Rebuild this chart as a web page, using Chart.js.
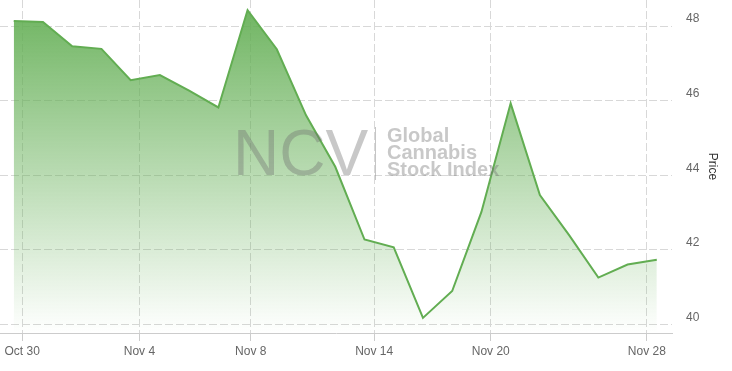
<!DOCTYPE html>
<html>
<head>
<meta charset="utf-8">
<script src="https://cdn.jsdelivr.net/npm/chart.js@4/dist/chart.umd.min.js"></script>
<style>
  html, body { margin: 0; padding: 0; background: #fff; }
  #wrap { width: 732px; height: 371px; }
</style>
</head>
<body>
<div id="wrap"><canvas id="priceChart" width="732" height="371"></canvas></div>
<script>
// daily closes, one per trading session (index = session number)
var prices = [48.14, 48.11, 47.46, 47.39, 46.55, 46.69, 46.27, 45.82,
              48.43, 47.38, 45.61, 44.23, 42.28, 42.07, 40.18, 40.90,
              43.02, 45.93, 43.47, 42.40, 41.26, 41.61, 41.74];

// date labels on the time axis and where they fall, in session units
var tickLabels = ["Oct 30", "Nov 4", "Nov 8", "Nov 14", "Nov 20", "Nov 28"];
var tickAt = [0.29, 4.30, 8.11, 12.33, 16.32, 21.66];

var priceTicks = [40, 42, 44, 46, 48];

(function () {
  "use strict";

  var FONT = "'Liberation Sans', Arial, sans-serif";

  var points = prices.map(function (p, i) { return { x: i, y: p }; });

  // NCV watermark in the middle of the plot
  var watermark = {
    id: "watermark",
    afterDatasetsDraw: function (chart) {
      var ctx = chart.ctx;
      ctx.save();
      ctx.fillStyle = "rgba(110, 110, 110, 0.38)";
      ctx.textBaseline = "alphabetic";
      ctx.textAlign = "left";
      ctx.font = "64px " + FONT;
      ctx.fillText("NCV", 233, 175);

      ctx.strokeStyle = "rgba(140, 140, 140, 0.5)";
      ctx.lineWidth = 1;
      ctx.beginPath();
      ctx.moveTo(375.5, 127);
      ctx.lineTo(375.5, 180);
      ctx.stroke();

      ctx.fillStyle = "rgba(110, 110, 110, 0.38)";
      ctx.font = "bold 20px " + FONT;
      ctx.fillText("Global", 387, 142);
      ctx.fillText("Cannabis", 387, 159);
      ctx.fillText("Stock Index", 387, 176);
      ctx.restore();
    },
  };

  var ctx = document.getElementById("priceChart").getContext("2d");

  new Chart(ctx, {
    type: "line",
    data: {
      datasets: [
        {
          data: points,
          borderColor: "#62ad52",
          borderWidth: 2,
          pointRadius: 0,
          tension: 0,
          fill: "start",
          backgroundColor: function (c) {
            var area = c.chart.chartArea;
            if (!area) return "rgba(100, 175, 85, 0.5)";
            var g = c.chart.ctx.createLinearGradient(0, area.top, 0, area.bottom);
            g.addColorStop(0, "rgba(100, 175, 85, 0.95)");
            g.addColorStop(1, "rgba(100, 175, 85, 0)");
            return g;
          },
        },
      ],
    },
    options: {
      responsive: false,
      animation: false,
      layout: { padding: 0 },
      plugins: {
        legend: { display: false },
        tooltip: { enabled: false },
      },
      scales: {
        x: {
          type: "linear",
          min: -0.47,
          max: 22.52,
          afterBuildTicks: function (scale) {
            scale.ticks = tickAt.map(function (v) { return { value: v }; });
          },
          afterFit: function (scale) {
            scale.height = 38;
            scale.paddingLeft = 0;
            scale.paddingRight = 0;
          },
          grid: {
            color: "#d8d8d8",
            tickBorderDash: [],
            tickColor: "#cccccc",
            tickLength: 8,
          },
          border: { display: true, color: "#cccccc", width: 1, dash: [8, 3] },
          ticks: {
            autoSkip: false,
            maxRotation: 0,
            padding: 3,
            color: "#666666",
            font: { family: FONT, size: 12 },
            callback: function (value, index) { return tickLabels[index]; },
          },
        },
        y: {
          position: "right",
          min: 39.775,
          max: 48.70,
          afterBuildTicks: function (scale) {
            scale.ticks = priceTicks.map(function (v) { return { value: v }; });
          },
          afterFit: function (scale) {
            scale.width = 60;
            scale.paddingTop = 0;
            scale.paddingBottom = 0;
          },
          grid: {
            color: "#d8d8d8",
            drawTicks: false,
          },
          border: { display: false, dash: [8, 3] },
          ticks: {
            padding: 14,
            labelOffset: -7,
            color: "#666666",
            font: { family: FONT, size: 12 },
          },
          title: {
            display: true,
            text: "Price",
            color: "#333333",
            font: { family: FONT, size: 12 },
            padding: { top: 12, bottom: 0 },
          },
        },
      },
    },
    plugins: [watermark],
  });
})();
</script>
</body>
</html>
